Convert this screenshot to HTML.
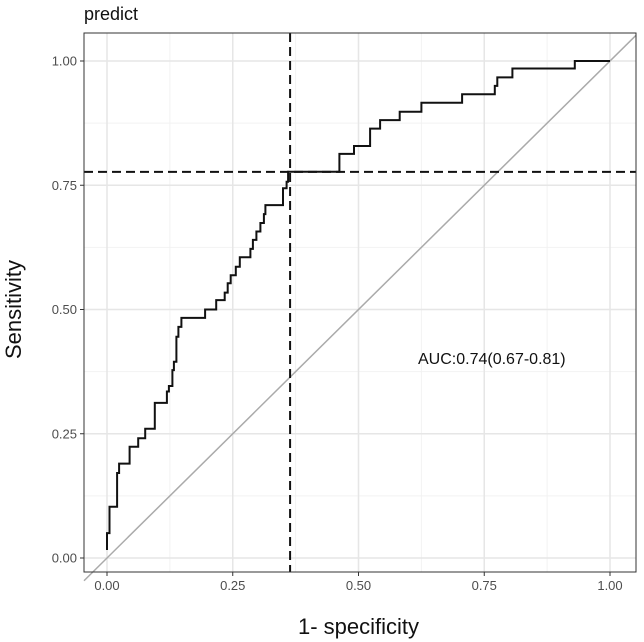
<!DOCTYPE html>
<html><head><meta charset="utf-8">
<style>
html,body{margin:0;padding:0;background:#fff;}
svg{display:block;font-family:"Liberation Sans",Arial,sans-serif;}
</style></head>
<body>
<svg id="chart" width="644" height="642" viewBox="0 0 644 642" xmlns="http://www.w3.org/2000/svg"></svg>
<script>
const fprValues=[0,0,0.005,0.005,0.02,0.02,0.024,0.024,0.045,0.045,0.062,0.062,0.076,0.076,0.095,0.095,0.119,0.119,0.123,0.123,0.13,0.13,0.133,0.133,0.138,0.138,0.142,0.142,0.148,0.148,0.195,0.195,0.217,0.217,0.234,0.234,0.24,0.24,0.246,0.246,0.256,0.256,0.264,0.264,0.285,0.285,0.29,0.29,0.297,0.297,0.305,0.305,0.312,0.312,0.315,0.315,0.35,0.35,0.357,0.357,0.36,0.36,0.462,0.462,0.491,0.491,0.523,0.523,0.543,0.543,0.582,0.582,0.625,0.625,0.706,0.706,0.771,0.771,0.776,0.776,0.806,0.806,0.93,0.93,1.0];
const tprValues=[0.016,0.05,0.05,0.103,0.103,0.171,0.171,0.19,0.19,0.224,0.224,0.241,0.241,0.26,0.26,0.312,0.312,0.335,0.335,0.346,0.346,0.378,0.378,0.395,0.395,0.445,0.445,0.465,0.465,0.483,0.483,0.5,0.5,0.519,0.519,0.534,0.534,0.553,0.553,0.569,0.569,0.586,0.586,0.605,0.605,0.622,0.622,0.64,0.64,0.657,0.657,0.674,0.674,0.692,0.692,0.71,0.71,0.744,0.744,0.757,0.757,0.777,0.777,0.813,0.813,0.829,0.829,0.864,0.864,0.881,0.881,0.898,0.898,0.916,0.916,0.933,0.933,0.95,0.95,0.967,0.967,0.985,0.985,1.0,1.0];
const xTicks=[0,0.25,0.5,0.75,1];
const yTicks=[0,0.25,0.5,0.75,1];
const tickLabels=["0.00","0.25","0.50","0.75","1.00"];
const cutoffFpr=0.364;
const cutoffTpr=0.777;
const aucLabel="AUC:0.74(0.67-0.81)";

const svg=document.getElementById('chart');
const NS='http://www.w3.org/2000/svg';
const P={l:84,r:636,t:33,b:572};
const X=v=>107+v*503;
const Y=v=>558-v*497;
function mk(tag,attrs,parent){const e=document.createElementNS(NS,tag);for(const k in attrs)e.setAttribute(k,attrs[k]);(parent||svg).appendChild(e);return e;}

const panel=mk('rect',{x:P.l,y:P.t,width:P.r-P.l,height:P.b-P.t,fill:'#fff'});


// minor grid
for(let i=0;i<4;i++){const m=(xTicks[i]+xTicks[i+1])/2;
 const g1=mk('line',{x1:X(m),x2:X(m),y1:P.t,y2:P.b,stroke:'#f2f2f2','stroke-width':1});
 
 
 const g2=mk('line',{x1:P.l,x2:P.r,y1:Y(m),y2:Y(m),stroke:'#f2f2f2','stroke-width':1});
 
 
}
xTicks.forEach((v,i)=>{
 const g=mk('line',{x1:X(v),x2:X(v),y1:P.t,y2:P.b,stroke:'#e6e6e6','stroke-width':1.5});
 
 
 const tk=mk('line',{x1:X(v),x2:X(v),y1:P.b,y2:P.b+4,stroke:'#333','stroke-width':1});
 
 
 const t=mk('text',{x:X(v),y:P.b+18,'text-anchor':'middle','font-size':13,fill:'#4d4d4d'});
 t.textContent=tickLabels[i];
 
 
});
yTicks.forEach((v,i)=>{
 const g=mk('line',{x1:P.l,x2:P.r,y1:Y(v),y2:Y(v),stroke:'#e6e6e6','stroke-width':1.5});
 
 
 const tk=mk('line',{x1:P.l-4,x2:P.l,y1:Y(v),y2:Y(v),stroke:'#333','stroke-width':1});
 
 
 const t=mk('text',{x:P.l-7,y:Y(v)+4.5,'text-anchor':'end','font-size':13,fill:'#4d4d4d'});
 t.textContent=tickLabels[i];
 
 
});
const diag=mk('line',{x1:P.l,y1:Y((P.l-107)/503),x2:P.r,y2:Y((P.r-107)/503),stroke:'#aaa','stroke-width':1.5});


const vl=mk('line',{x1:X(cutoffFpr),x2:X(cutoffFpr),y1:P.t,y2:P.b,stroke:'#111','stroke-width':2,'stroke-dasharray':'9,5'});


const hl=mk('line',{x1:P.l,x2:P.r,y1:Y(cutoffTpr),y2:Y(cutoffTpr),stroke:'#111','stroke-width':2,'stroke-dasharray':'9,5'});


const pts=fprValues.map((f,i)=>X(f).toFixed(1)+','+Y(tprValues[i]).toFixed(1)).join(' ');
const roc=mk('polyline',{points:pts,fill:'none',stroke:'#111','stroke-width':2});


const border=mk('rect',{x:P.l,y:P.t,width:P.r-P.l,height:P.b-P.t,fill:'none',stroke:'#333','stroke-width':1});


const auc=mk('text',{x:418,y:364,'font-size':16,fill:'#111'});
auc.textContent=aucLabel;


const title=mk('text',{x:84,y:20,'font-size':18,fill:'#111'});
title.textContent='predict';


const xt=mk('text',{x:X(0.5),y:634,'text-anchor':'middle','font-size':22,fill:'#111'});
xt.textContent='1- specificity';


const yt=mk('text',{x:0,y:0,'text-anchor':'middle','font-size':22,fill:'#111',transform:'translate(21,'+Y(0.5)+') rotate(-90)'});
yt.textContent='Sensitivity';


</script>
</body></html>
